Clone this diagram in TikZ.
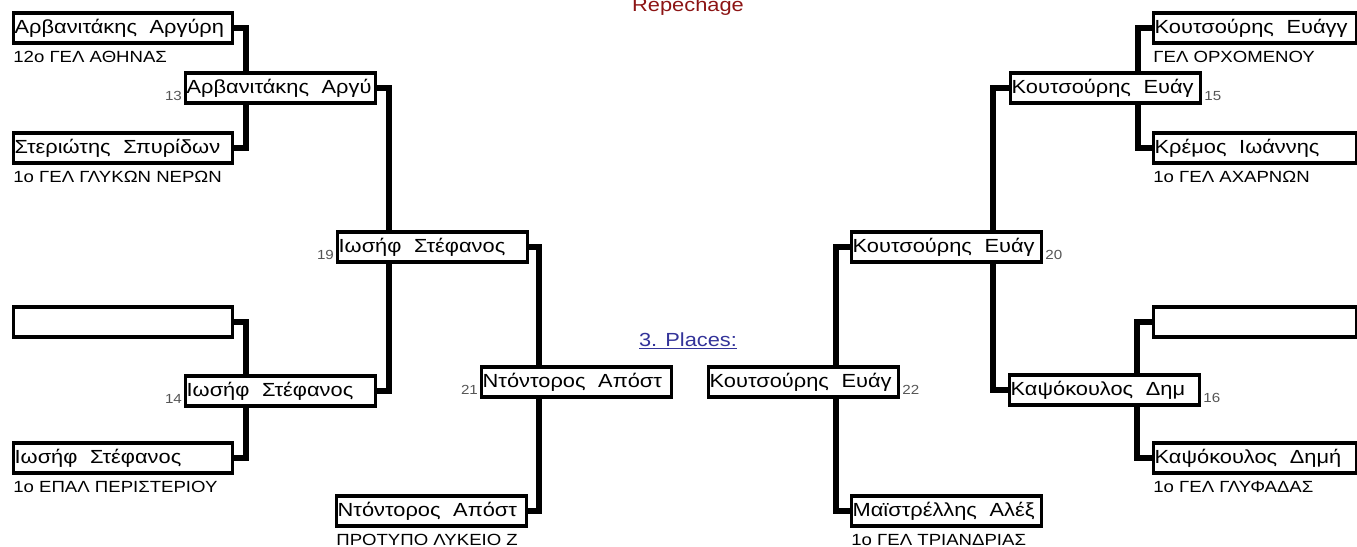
\documentclass[tikz,border=0pt]{standalone}
\usepackage{fontspec}
\setmainfont{Liberation Sans}[FakeStretch=1.15]
\usepackage{tikz}
\usetikzlibrary{positioning, calc, backgrounds}
\definecolor{repred}{RGB}{140, 20, 20}
\definecolor{placeblue}{RGB}{51, 51, 153}
\definecolor{seedgrey}{RGB}{85, 85, 85}

\begin{document}
\begin{tikzpicture}[x=0.02cm, y=-0.02cm,
  box/.style={draw, line width=1.9pt, fill=white, anchor=west, minimum height=0.6cm, text width=3.76cm, inner xsep=0.02cm, inner ysep=0pt, align=left, font=\fontsize{10.8}{11.5}\selectfont},
  leaf/.style={box, text width=4.34cm},
  rleaf/.style={box, text width=4.02cm},
  school/.style={inner sep=0pt, font=\fontsize{9.2}{10}\selectfont},
  seed/.style={inner sep=1pt, text=seedgrey, font=\fontsize{7.5}{8}\selectfont},
  link/.style={line width=3.2pt}
]
  \useasboundingbox (0,0) rectangle (1357,547);

  % Titles
  \node[anchor=base, text=repred, font=\fontsize{10.8}{11.5}\selectfont] (title) at (688,12) {Repechage};
  \node[text=placeblue, font=\fontsize{10.8}{11.5}\selectfont] (places) at (688,341) {\underline{3. Places:}};

  % First round, left
  \node[leaf] (a1) at (12,28) {Αρβανιτάκης\ \ Αργύρη};
  \node[leaf] (a2) at (12,148) {Στεριώτης\ \ Σπυρίδων};
  \node[leaf] (a3) at (12,322) {};
  \node[leaf] (a4) at (12,458) {Ιωσήφ\ \ Στέφανος};
  \node[school, below right=0.13cm and 0.02cm of a1.south west] (sa1) {12ο ΓΕΛ ΑΘΗΝΑΣ};
  \node[school, below right=0.13cm and 0.02cm of a2.south west] (sa2) {1ο ΓΕΛ ΓΛΥΚΩΝ ΝΕΡΩΝ};
  \node[school, below right=0.13cm and 0.02cm of a4.south west] (sa4) {1ο ΕΠΑΛ ΠΕΡΙΣΤΕΡΙΟΥ};

  % Later rounds, left
  \node[box] (b1) at (184,88) {Αρβανιτάκης\ \ Αργύ};
  \node[box] (b2) at (184,391) {Ιωσήφ\ \ Στέφανος};
  \node[box] (c1) at (336,247) {Ιωσήφ\ \ Στέφανος};
  \node[box] (c2) at (335,511) {Ντόντορος\ \ Απόστ};
  \node[box] (d1) at (480,382) {Ντόντορος\ \ Απόστ};
  \node[school, below right=0.13cm and 0.02cm of c2.south west] (sc2) {ΠΡΟΤΥΠΟ ΛΥΚΕΙΟ Ζ};
  \node[seed, above left=0.04cm and 0cm of b1.south west] (n13) {13};
  \node[seed, above left=0.04cm and 0cm of b2.south west] (n14) {14};
  \node[seed, above left=0.04cm and 0cm of c1.south west] (n19) {19};
  \node[seed, above left=0.04cm and 0cm of d1.south west] (n21) {21};

  % First round, right
  \node[rleaf] (e1) at (1152,28) {Κουτσούρης\ \ Ευάγγ};
  \node[rleaf] (e2) at (1152,148) {Κρέμος\ \ Ιωάννης};
  \node[rleaf] (e3) at (1152,322) {};
  \node[rleaf] (e4) at (1152,458) {Καψόκουλος\ \ Δημή};
  \node[school, below right=0.13cm and 0.02cm of e1.south west] (se1) {ΓΕΛ ΟΡΧΟΜΕΝΟΥ};
  \node[school, below right=0.13cm and 0.02cm of e2.south west] (se2) {1ο ΓΕΛ ΑΧΑΡΝΩΝ};
  \node[school, below right=0.13cm and 0.02cm of e4.south west] (se4) {1ο ΓΕΛ ΓΛΥΦΑΔΑΣ};

  % Later rounds, right
  \node[box] (f1) at (1009,88) {Κουτσούρης\ \ Ευάγ};
  \node[box] (f2) at (1008,390) {Καψόκουλος\ \ Δημ};
  \node[box] (g1) at (850,247) {Κουτσούρης\ \ Ευάγ};
  \node[box] (g2) at (850,511) {Μαϊστρέλλης\ \ Αλέξ};
  \node[box] (h1) at (707,382) {Κουτσούρης\ \ Ευάγ};
  \node[school, below right=0.13cm and 0.02cm of g2.south west] (sg2) {1ο ΓΕΛ ΤΡΙΑΝΔΡΙΑΣ};
  \node[seed, above right=0.04cm and 0cm of f1.south east] (n15) {15};
  \node[seed, above right=0.04cm and 0cm of f2.south east] (n16) {16};
  \node[seed, above right=0.04cm and 0cm of g1.south east] (n20) {20};
  \node[seed, above right=0.04cm and 0cm of h1.south east] (n22) {22};

  % Bracket spines
  \coordinate (s1) at (246,0);
  \coordinate (s2) at (246,0);
  \coordinate (s3) at (389,0);
  \coordinate (s4) at (539,0);
  \coordinate (t1) at (1138,0);
  \coordinate (t2) at (1137,0);
  \coordinate (t3) at (993,0);
  \coordinate (t4) at (836,0);

  \begin{scope}[on background layer]
    \draw[link] (a1.east) -| (s1 |- a2.east) -- (a2.east);
    \draw[link] (a3.east) -| (s2 |- a4.east) -- (a4.east);
    \draw[link] (b1.east) -| (s3 |- b2.east) -- (b2.east);
    \draw[link] (c1.east) -| (s4 |- c2.east) -- (c2.east);
    \draw[link] (e1.west) -| (t1 |- e2.west) -- (e2.west);
    \draw[link] (e3.west) -| (t2 |- e4.west) -- (e4.west);
    \draw[link] (f1.west) -| (t3 |- f2.west) -- (f2.west);
    \draw[link] (g1.west) -| (t4 |- g2.west) -- (g2.west);
  \end{scope}
\end{tikzpicture}
\end{document}
